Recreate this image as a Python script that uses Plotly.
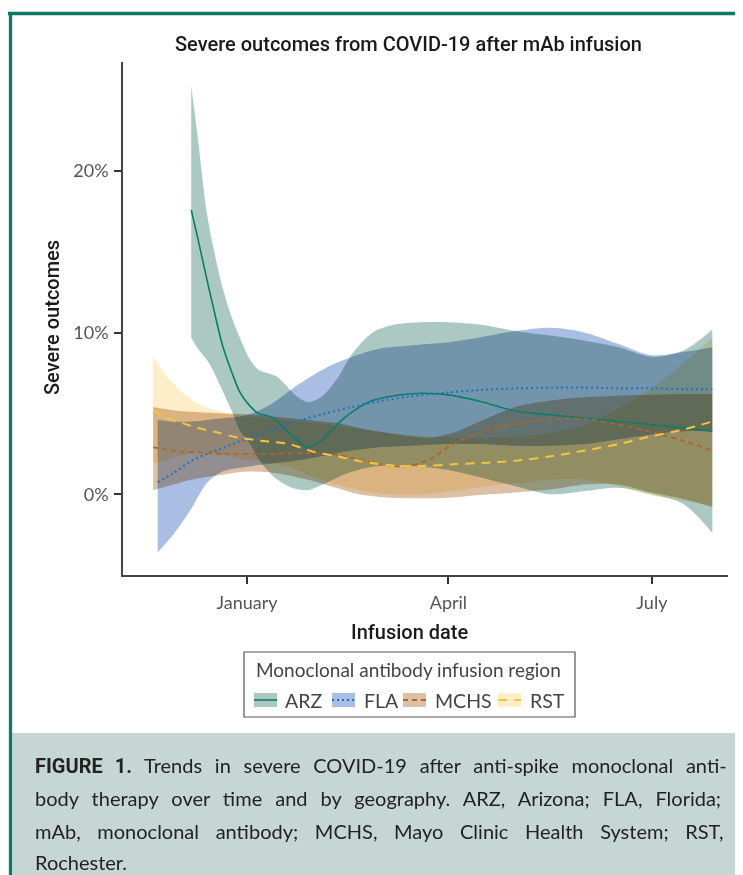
import plotly.graph_objects as go

# page is 743x875; the html body has an 8px margin, so the figure is drawn 8px in
OFF = 8
FW, FH = 743 - OFF, 875 - OFF

# ---------------- data (percent) ----------------
arz_dates = ["2020-12-07", "2020-12-10", "2020-12-14", "2020-12-17", "2020-12-21", "2020-12-25",
             "2020-12-29", "2021-01-02", "2021-01-06", "2021-01-10", "2021-01-14", "2021-01-18",
             "2021-01-22", "2021-01-28", "2021-02-03", "2021-02-10", "2021-02-17", "2021-02-26",
             "2021-03-08", "2021-03-20", "2021-04-01", "2021-04-15", "2021-05-01", "2021-05-17",
             "2021-06-01", "2021-06-16", "2021-07-01", "2021-07-15", "2021-07-28"]
arz_mid = [17.6, 15.8, 13.3, 11.5, 9.2, 7.6, 6.25, 5.5, 5.0, 4.85, 4.6, 4.0, 3.55, 2.9, 3.3,
           4.3, 5.1, 5.8, 6.1, 6.25, 6.15, 5.75, 5.15, 4.9, 4.7, 4.5, 4.3, 4.1, 3.9]
arz_hi = [25.3, 22.0, 17.4, 15.2, 12.8, 11.0, 9.6, 8.4, 7.7, 7.5, 7.3, 6.8, 6.2, 5.7, 6.0,
          7.1, 8.7, 10.0, 10.5, 10.65, 10.65, 10.5, 10.1, 9.8, 9.5, 9.1, 8.5, 8.9, 10.2]
arz_lo = [9.7, 9.0, 8.3, 7.6, 6.4, 5.2, 3.9, 3.2, 2.2, 1.5, 0.95, 0.6, 0.35, 0.25, 0.55,
          1.0, 1.4, 1.7, 1.8, 1.7, 1.5, 1.05, 0.5, 0.0, 0.2, 0.4, 0.0, -0.6, -2.4]

fla_dates = ["2020-11-22", "2020-11-29", "2020-12-07", "2020-12-14", "2020-12-21", "2021-01-01",
             "2021-01-12", "2021-01-24", "2021-02-05", "2021-02-17", "2021-03-01", "2021-03-15",
             "2021-04-01", "2021-04-15", "2021-05-01", "2021-05-17", "2021-06-01", "2021-06-16",
             "2021-07-01", "2021-07-15", "2021-07-28"]
fla_mid = [0.75, 1.3, 2.05, 2.5, 2.85, 3.45, 4.0, 4.55, 5.0, 5.4, 5.75, 6.05, 6.3, 6.45, 6.55,
           6.6, 6.6, 6.55, 6.55, 6.5, 6.5]
fla_hi = [4.6, 4.5, 4.5, 4.6, 4.7, 4.9, 5.6, 6.8, 7.8, 8.5, 9.0, 9.2, 9.4, 9.7, 10.1, 10.3,
          10.0, 9.3, 8.6, 8.8, 9.1]
fla_lo = [-3.6, -2.5, -0.9, 0.7, 1.4, 1.7, 1.9, 2.1, 2.4, 2.7, 2.9, 3.0, 3.1, 3.1, 3.0, 3.0,
          3.1, 3.4, 3.7, 3.9, 3.9]

mchs_dates = ["2020-11-20", "2020-11-29", "2020-12-07", "2020-12-21", "2021-01-01", "2021-01-14",
              "2021-01-28", "2021-02-10", "2021-02-20", "2021-03-04", "2021-03-14", "2021-03-24",
              "2021-04-03", "2021-04-15", "2021-05-01", "2021-05-17", "2021-06-01", "2021-06-16",
              "2021-07-01", "2021-07-15", "2021-07-28"]
mchs_mid = [2.9, 2.7, 2.6, 2.5, 2.5, 2.5, 2.55, 2.45, 2.15, 1.8, 1.75, 2.2, 3.1, 3.8, 4.35,
            4.65, 4.65, 4.3, 3.85, 3.3, 2.7]
mchs_hi = [5.4, 5.2, 5.1, 5.0, 4.95, 4.8, 4.6, 4.4, 4.1, 3.8, 3.6, 3.5, 3.8, 4.5, 5.4, 5.8,
           6.0, 6.1, 6.15, 6.2, 6.2]
mchs_lo = [0.25, 0.6, 0.9, 1.2, 1.4, 1.3, 0.9, 0.4, 0.0, -0.2, -0.25, -0.25, -0.2, -0.05, 0.1,
           0.3, 0.6, 0.6, 0.1, -0.3, -0.8]

rst_dates = ["2020-11-20", "2020-11-26", "2020-12-03", "2020-12-10", "2020-12-18", "2020-12-28",
             "2021-01-08", "2021-01-20", "2021-01-30", "2021-02-10", "2021-02-22", "2021-03-06",
             "2021-03-20", "2021-04-03", "2021-04-18", "2021-05-03", "2021-05-17", "2021-06-01",
             "2021-06-16", "2021-07-01", "2021-07-15", "2021-07-28"]
rst_mid = [5.2, 4.7, 4.4, 4.1, 3.85, 3.5, 3.3, 3.1, 2.65, 2.35, 2.0, 1.8, 1.75, 1.85, 1.95,
           2.1, 2.35, 2.7, 3.1, 3.6, 4.0, 4.5]
rst_hi = [8.5, 7.3, 6.3, 5.6, 5.2, 4.9, 4.7, 4.55, 4.4, 4.25, 4.0, 3.8, 3.6, 3.5, 3.5, 3.6,
          3.8, 4.3, 5.3, 6.6, 8.1, 9.7]
rst_lo = [1.9, 2.1, 2.4, 2.6, 2.5, 2.2, 2.0, 1.7, 1.1, 0.6, 0.2, 0.0, 0.0, 0.2, 0.5, 0.7,
          0.9, 0.9, 0.5, -0.1, -0.4, -0.7]

region_names = ["ARZ", "FLA", "MCHS", "RST"]
x_tick_vals = ["2021-01-01", "2021-04-01", "2021-07-01"]
x_tick_text = ["January", "April", "July"]
y_tick_vals = [0, 10, 20]
y_tick_text = ["0%", "10%", "20%"]

# ---------------- styles ----------------
# ribbons are opaque and multiplied together (as in the original print rendering)
band_colors = ["#abc9c2", "#aabde2", "#dcc0a5", "#fdeec8"]
line_colors = ["#087f67", "#2070c4", "#b0652a", "#f4c542"]
line_dash = ["solid", "2px,3px", "5px,4px", "9px,7px"]
line_width = [1.6, 2.0, 1.8, 2.0]

series = [
    (arz_dates, arz_mid, arz_lo, arz_hi),
    (fla_dates, fla_mid, fla_lo, fla_hi),
    (mchs_dates, mchs_mid, mchs_lo, mchs_hi),
    (rst_dates, rst_mid, rst_lo, rst_hi),
]


def px(x):
    return (x - OFF) / FW


def py(y):
    return 1 - (y - OFF) / FH


fig = go.Figure()

for i, (d, m, lo, hi) in enumerate(series):
    fig.add_trace(go.Scatter(x=d, y=hi, mode="lines",
                             line=dict(width=0, shape="spline", smoothing=0.9),
                             hoverinfo="skip", showlegend=False))
    fig.add_trace(go.Scatter(x=d, y=lo, mode="lines",
                             line=dict(width=0, shape="spline", smoothing=0.9),
                             fill="tonexty", fillcolor=band_colors[i],
                             hoverinfo="skip", showlegend=False))

for i, (d, m, lo, hi) in enumerate(series):
    fig.add_trace(go.Scatter(x=d, y=m, mode="lines", name=region_names[i],
                             line=dict(color=line_colors[i], width=line_width[i],
                                       dash=line_dash[i], shape="spline", smoothing=0.9),
                             showlegend=False))

tick_font = dict(family="Lato", size=18, color="#555555")
title_font = dict(family="Roboto", size=20, color="#1a1a1a", weight=500)

fig.update_layout(
    width=FW, height=FH,
    margin=dict(l=0, r=0, t=0, b=0),
    paper_bgcolor="white", plot_bgcolor="white",
    showlegend=False,
    xaxis=dict(type="date", range=["2020-11-06 12:00", "2021-08-04"],
               domain=[px(123), px(728)], anchor="y",
               tickvals=x_tick_vals, ticktext=x_tick_text,
               ticks="outside", ticklen=7, tickwidth=1.5, tickcolor="#333333",
               showline=True, linecolor="#444444", linewidth=1.5,
               showgrid=False, zeroline=False, tickfont=tick_font, fixedrange=True,
               ticklabelstandoff=4),
    yaxis=dict(range=[-5.0, 26.75], domain=[py(575), py(62)], anchor="x",
               tickvals=y_tick_vals, ticktext=y_tick_text,
               ticks="outside", ticklen=7, tickwidth=1.5, tickcolor="#333333",
               showline=True, linecolor="#444444", linewidth=1.5,
               showgrid=False, zeroline=False, tickfont=tick_font, fixedrange=True,
               ticklabelstandoff=2),
)

ann = []
ann.append(dict(x=px(408), y=py(44), xref="paper", yref="paper", showarrow=False,
                text="Severe outcomes from COVID-19 after mAb infusion",
                font=title_font, xanchor="center", yanchor="middle"))
ann.append(dict(x=px(52), y=py(318), xref="paper", yref="paper", showarrow=False,
                text="Severe outcomes", textangle=-90, font=title_font,
                xanchor="center", yanchor="middle"))
ann.append(dict(x=px(410), y=py(632), xref="paper", yref="paper", showarrow=False,
                text="Infusion date", font=title_font,
                xanchor="center", yanchor="middle"))

shapes = []
shapes.append(dict(type="line", xref="paper", yref="paper",
                   x0=px(8), x1=px(743), y0=py(13.5), y1=py(13.5),
                   line=dict(color="#0b7a66", width=3.3)))
shapes.append(dict(type="line", xref="paper", yref="paper",
                   x0=px(10.5), x1=px(10.5), y0=py(12), y1=py(875),
                   line=dict(color="#0b7a66", width=3.3)))
shapes.append(dict(type="rect", xref="paper", yref="paper",
                   x0=px(12.2), x1=px(743), y0=py(733), y1=py(875),
                   fillcolor="#c6d7d3", line=dict(width=0), layer="below"))

# legend box
shapes.append(dict(type="rect", xref="paper", yref="paper",
                   x0=px(244), x1=px(575), y0=py(652), y1=py(717),
                   fillcolor="white", line=dict(color="#555555", width=1.2)))
ann.append(dict(x=px(254), y=py(669), xref="paper", yref="paper", showarrow=False,
                text="Monoclonal antibody infusion region",
                font=dict(family="Lato", size=19, color="#444444"),
                xanchor="left", yanchor="middle"))
key_x = [254, 332, 403, 498]
label_x = [283, 362, 433, 528]
for i, name in enumerate(region_names):
    shapes.append(dict(type="rect", xref="paper", yref="paper",
                       x0=px(key_x[i]), x1=px(key_x[i] + 23), y0=py(693), y1=py(707),
                       fillcolor=band_colors[i], line=dict(width=0)))
    shapes.append(dict(type="line", xref="paper", yref="paper",
                       x0=px(key_x[i]), x1=px(key_x[i] + 23), y0=py(700), y1=py(700),
                       line=dict(color=line_colors[i], width=line_width[i], dash=line_dash[i])))
    ann.append(dict(x=px(label_x[i]), y=py(700), xref="paper", yref="paper", showarrow=False,
                    text=name, font=dict(family="Lato", size=19.5, color="#444444"),
                    xanchor="left", yanchor="middle"))

# caption text (justified lines emulated with word spacing)
cap_lines = [
    "<b><span style='font-family:Roboto;word-spacing:7.0px'>FIGURE 1.</span></b>"
    "<span style='word-spacing:7.6px'> Trends in severe COVID-19 after anti-spike monoclonal anti-</span>",
    "<span style='word-spacing:7.9px'>body therapy over time and by geography. ARZ, Arizona; FLA, Florida;</span>",
    "<span style='word-spacing:11.5px'>mAb, monoclonal antibody; MCHS, Mayo Clinic Health System; RST,</span>",
    "Rochester.",
]
cap_y = [765, 798, 831, 862]
for t, yy in zip(cap_lines, cap_y):
    ann.append(dict(x=px(33), y=py(yy), xref="paper", yref="paper", showarrow=False,
                    text=t, font=dict(family="Lato", size=20, color="#222222"),
                    xanchor="left", yanchor="middle"))

fig.update_layout(annotations=ann, shapes=shapes)

blend_js = """
var gd = document.getElementById('{plot_id}');
gd.querySelectorAll('.scatterlayer .js-fill').forEach(function(p){ p.style.mixBlendMode = 'multiply'; });
"""
fig.write_html("out.html", post_script=blend_js)
